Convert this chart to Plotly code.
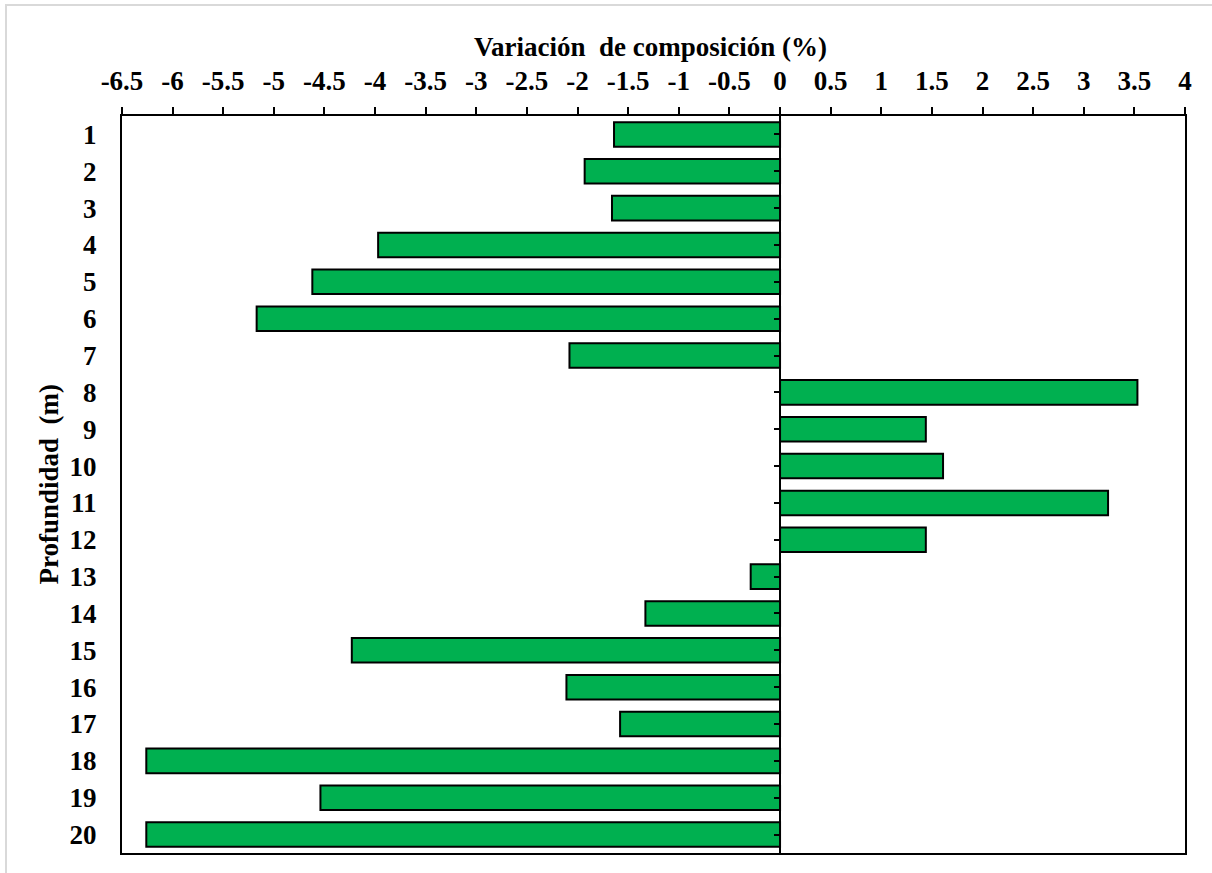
import plotly.graph_objects as go

depths = [str(i) for i in range(1, 21)]
values = [-1.64, -1.93, -1.66, -3.97, -4.62, -5.17, -2.08, 3.53, 1.44, 1.61,
          3.24, 1.44, -0.29, -1.33, -4.23, -2.11, -1.58, -6.26, -4.54, -6.26]
x_ticks = [-6.5, -6, -5.5, -5, -4.5, -4, -3.5, -3, -2.5, -2, -1.5, -1, -0.5,
           0, 0.5, 1, 1.5, 2, 2.5, 3, 3.5, 4]
x_tick_text = [f"{v:g}" for v in x_ticks]
x_title = "Variación  de composición (%)"
y_title = "Profundidad  (m)"

W, H = 1212, 873
L, R, T, B = 122, 1185, 116, 853
FONT = "Liberation Serif"
FS = 27

fig = go.Figure()
fig.add_trace(go.Bar(
    y=depths, x=values, orientation="h",
    marker=dict(color="#00B050", line=dict(color="black", width=2)),
    showlegend=False, hoverinfo="x+y",
))
# invisible helper trace for the tick marks axis at x = 0
fig.add_trace(go.Scatter(x=[None], y=[None], yaxis="y2", showlegend=False,
                         hoverinfo="skip"))

fig.update_layout(
    width=W, height=H,
    margin=dict(l=L, r=W - R, t=T, b=H - B, pad=0),
    paper_bgcolor="white", plot_bgcolor="white",
    font=dict(family=FONT, size=FS, color="black"),
    bargap=0.335,
    xaxis=dict(
        range=[-6.5, 4], side="top", tickvals=x_ticks, ticktext=x_tick_text,
        ticks="outside", ticklen=7, tickwidth=1.5, tickcolor="black",
        showline=True, linecolor="black", linewidth=2, mirror=True,
        showgrid=False, zeroline=True, zerolinecolor="black", zerolinewidth=2,
        tickfont=dict(family=FONT, size=FS, color="black", weight="bold"),
        ticklabelstandoff=6,
    ),
    yaxis=dict(
        type="category", autorange="reversed", ticks="",
        showline=True, linecolor="black", linewidth=2, mirror=True,
        showgrid=False,
        tickfont=dict(family=FONT, size=FS, color="black", weight="bold"),
        ticklabelstandoff=18,
    ),
    yaxis2=dict(
        overlaying="y", anchor="free", position=6.5 / 10.5, side="left",
        range=[19.5, -0.5], tickvals=list(range(20)),
        ticks="outside", ticklen=6, tickwidth=1.5, tickcolor="black",
        showticklabels=False, showline=False, showgrid=False, zeroline=False,
    ),
    annotations=[
        dict(text=f"<b>{x_title}</b>", xref="paper", yref="paper",
             x=(650 - L) / (R - L), y=(B - 47) / (B - T),
             xanchor="center", yanchor="middle", showarrow=False,
             font=dict(family=FONT, size=FS, color="black")),
        dict(text=f"<b>{y_title}</b>", xref="paper", yref="paper",
             x=(48 - L) / (R - L), y=0.5, textangle=-90,
             xanchor="center", yanchor="middle", showarrow=False,
             font=dict(family=FONT, size=FS, color="black")),
    ],
    shapes=[
        dict(type="rect", xref="paper", yref="paper",
             x0=(6 - L) / (R - L), x1=(1230 - L) / (R - L),
             y0=(B - 890) / (B - T), y1=(B - 5) / (B - T),
             line=dict(color="#d9d9d9", width=2), fillcolor="rgba(0,0,0,0)",
             layer="below"),
    ],
)

fig.write_html(
    "out.html",
    config={"displayModeBar": False},
    post_script="document.body.style.margin='0';document.body.style.overflow='hidden';",
)
